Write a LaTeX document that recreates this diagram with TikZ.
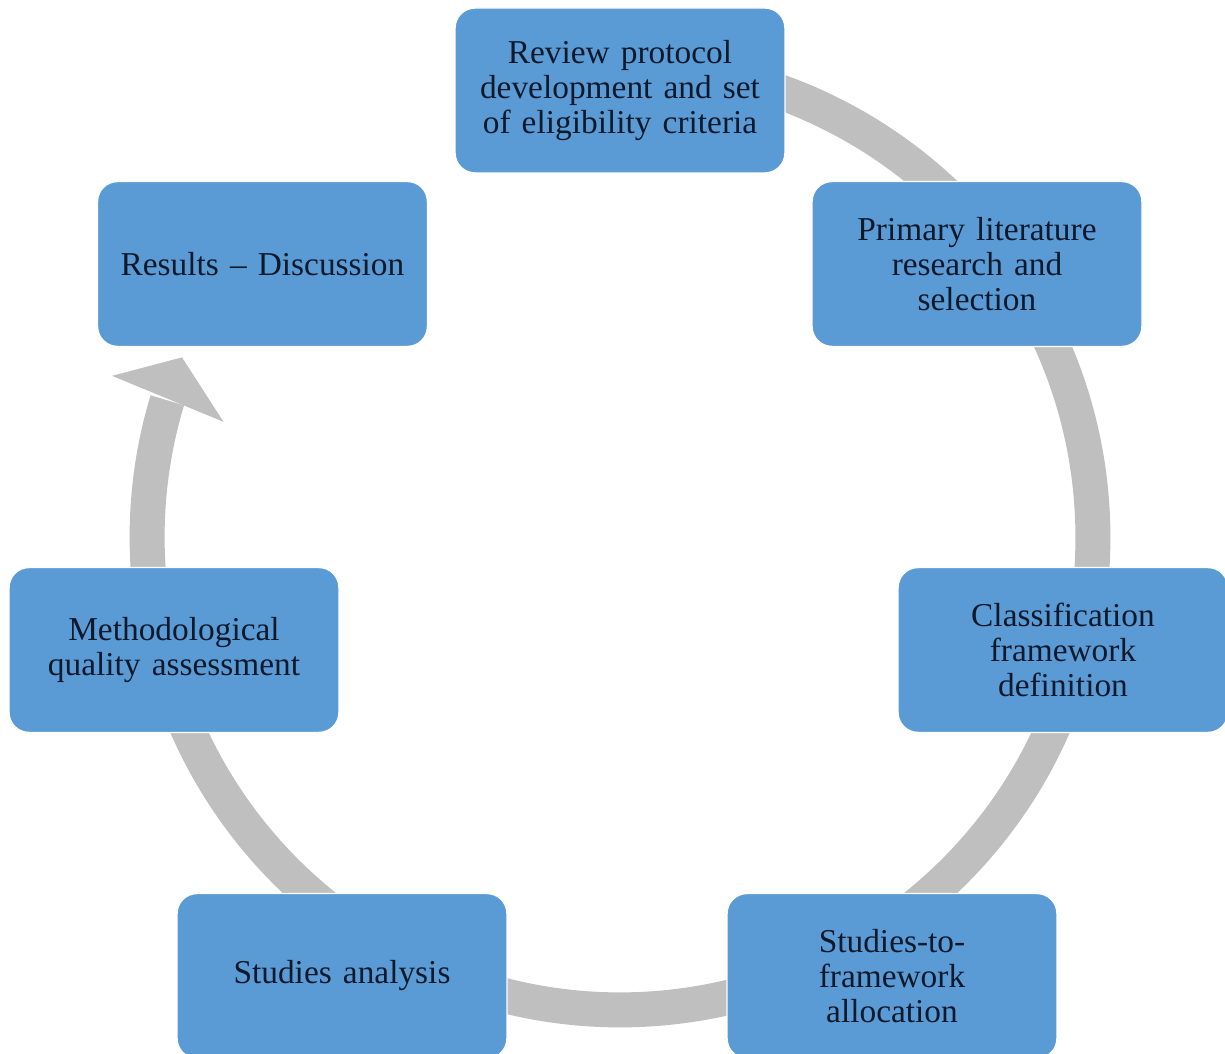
\documentclass[tikz,border=0pt]{standalone}
\usepackage{fontspec}
\setmainfont{Liberation Serif}
\usetikzlibrary{calc}
\definecolor{boxblue}{HTML}{5B9BD5}
\definecolor{ringgrey}{HTML}{BFBFBF}
\definecolor{txt}{HTML}{0E1A2B}
\begin{document}
\begin{tikzpicture}[x=0.02cm,y=0.02cm,
  stage/.style={draw=white, line width=0.8pt, fill=boxblue, rounded corners=0.4cm,
    minimum width=6.6cm, minimum height=3.3cm, text width=6.3cm, align=center,
    text=txt, font=\fontsize{19}{20}\selectfont, inner sep=0pt},
  ring/.style={draw=ringgrey, line width=0.7cm}]
\useasboundingbox (0,0) rectangle (1225,1054);
\coordinate (C) at (620,517);
% grey circular arrow behind the stages
\draw[ring] ($(C)+(95:9.46cm)$) arc[start angle=95, end angle=-196.8, radius=9.46cm];
\fill[ringgrey] ($(C)+(162.4:10.66cm)$) -- ($(C)+(157.7:9.47cm)$) -- ($(C)+(163.8:8.26cm)$) -- cycle;
% stages
\node[stage] (n1) at (620,963.5) {Review protocol\\development and set\\of eligibility criteria};
\node[stage] (n2) at (977,790) {Primary literature\\research and\\selection};
\node[stage] (n3) at (1063,404) {Classification\\framework\\definition};
\node[stage] (n4) at (892,78) {Studies-to-\\framework\\allocation};
\node[stage] (n5) at (342,78) {Studies analysis};
\node[stage] (n6) at (174,404) {Methodological\\quality assessment};
\node[stage] (n7) at (262.5,790) {Results -- Discussion};
\end{tikzpicture}
\end{document}
